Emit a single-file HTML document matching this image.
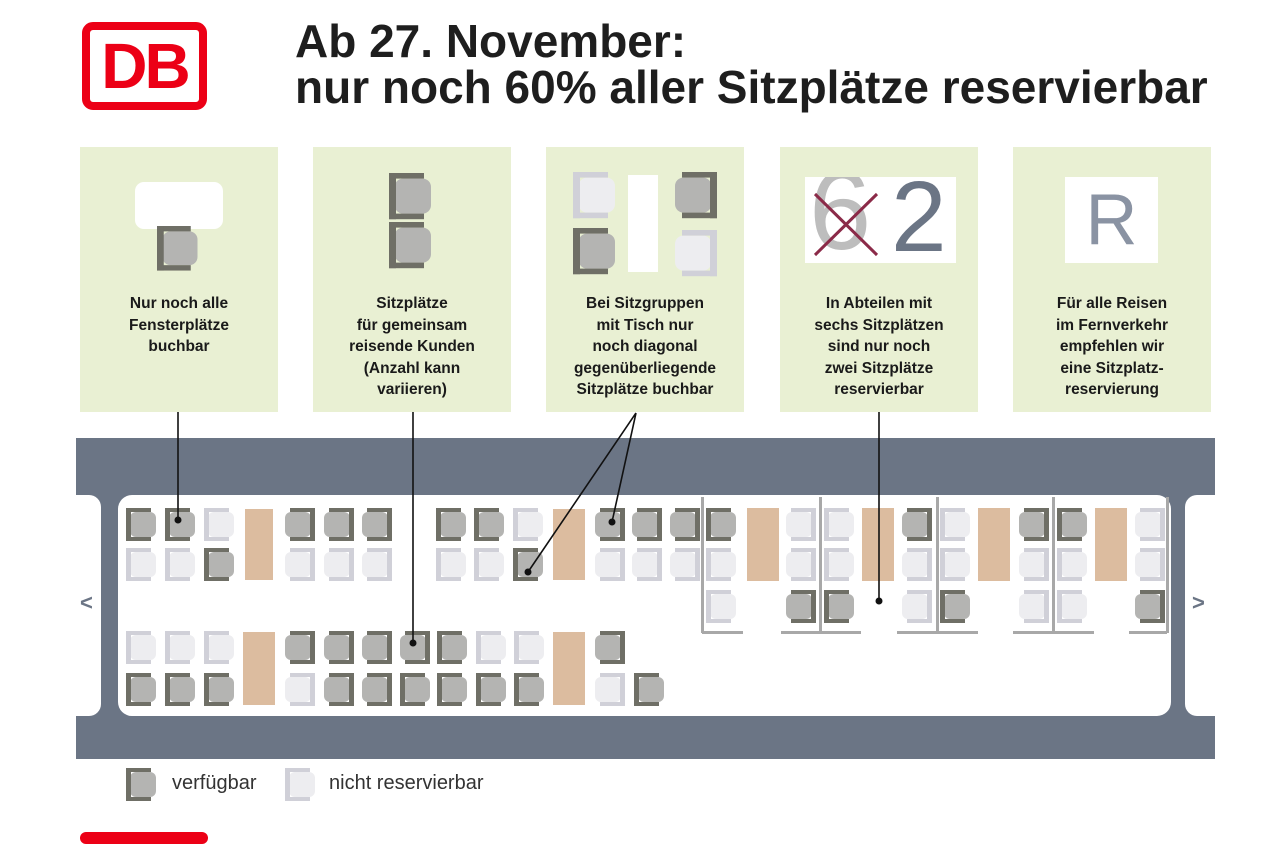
<!DOCTYPE html>
<html><head><meta charset="utf-8">
<style>
*{margin:0;padding:0;box-sizing:border-box}
body{width:1280px;height:854px;background:#fff;position:relative;overflow:hidden;font-family:"Liberation Sans",sans-serif}
.a{position:absolute}
.panel{position:absolute;top:147px;width:198px;height:265px;background:#e9f0d3}
.pt{position:absolute;left:0;right:0;top:147px;text-align:center;font-weight:bold;font-size:15.5px;line-height:21.5px;color:#1a1a1a}
.seat{position:absolute;width:30px;height:33px}
.seat .c{position:absolute;top:4px;width:26px;height:25px;border-radius:6px}
.seat .b{position:absolute;top:0;width:25px;height:33px;border:solid;border-width:4px 0 4px 5px}
.seat.R .b{right:0;border-width:4px 5px 4px 0}
.seat.L .b{left:0}
.seat.L .c{left:4px}
.seat.R .c{right:4px}
.seat.D .b{border-color:#6f6f66}
.seat.D .c{background:#b4b4b2}
.seat.W .b{border-color:#d0d0d8}
.seat.W .c{background:#ededf0}
.tbl{position:absolute;background:#dcbc9f}
.vl{position:absolute;width:3px;background:#a8a8a8}
.hl{position:absolute;height:3px;background:#a8a8a8}
</style></head><body>
<div class="a" style="left:82px;top:22px;width:125px;height:88px;border:8px solid #ec0016;border-radius:11px;background:#fff"></div>
<div class="a" style="left:82px;top:26px;width:125px;text-align:center;font-weight:bold;font-size:64px;color:#ec0016;letter-spacing:-3px;line-height:80px">DB</div>
<div class="a" style="left:295px;top:18px;font-weight:bold;font-size:46px;line-height:46px;color:#1e1e1e;white-space:nowrap">Ab 27. November:<br>nur noch 60% aller Sitzplätze reservierbar</div>
<div class="panel" style="left:80px"><div class="pt" style="top:146px">Nur noch alle<br>Fensterplätze<br>buchbar</div></div>
<div class="panel" style="left:313px"><div class="pt" style="top:146px">Sitzplätze<br>für gemeinsam<br>reisende Kunden<br>(Anzahl kann<br>variieren)</div></div>
<div class="panel" style="left:546px"><div class="pt" style="top:146px">Bei Sitzgruppen<br>mit Tisch nur<br>noch diagonal<br>gegenüberliegende<br>Sitzplätze buchbar</div></div>
<div class="panel" style="left:780px"><div class="pt" style="top:146px">In Abteilen mit<br>sechs Sitzplätzen<br>sind nur noch<br>zwei Sitzplätze<br>reservierbar</div></div>
<div class="panel" style="left:1013px"><div class="pt" style="top:146px">Für alle Reisen<br>im Fernverkehr<br>empfehlen wir<br>eine Sitzplatz-<br>reservierung</div></div>
<div class="a" style="left:135px;top:182px;width:88px;height:47px;background:#fff;border-radius:9px"></div>
<div class="a" style="left:628px;top:175px;width:30px;height:97px;background:#fff"></div>
<div class="a" style="left:805px;top:177px;width:151px;height:86px;background:#fff;overflow:hidden">
 <div class="a" style="left:4px;top:-22px;font-size:112px;color:#bdbdbd;line-height:112px">6</div>
 <div class="a" style="left:86px;top:-16px;font-size:100px;color:#6b7585;line-height:112px">2</div>
 <svg class="a" style="left:0;top:0" width="151" height="86"><path d="M10 17L72 78M72 17L10 78" stroke="#8b2a48" stroke-width="3"/></svg>
</div>
<div class="a" style="left:1065px;top:177px;width:93px;height:86px;background:#fff;text-align:center;font-size:72px;line-height:86px;color:#8a93a3">R</div>
<div class="a" style="left:76px;top:438px;width:1139px;height:321px;background:#6b7585"></div>
<div class="a" style="left:76px;top:495px;width:25px;height:221px;background:#fff;border-radius:0 12px 12px 0"></div>
<div class="a" style="left:1185px;top:495px;width:30px;height:221px;background:#fff;border-radius:12px 0 0 12px"></div>
<div class="a" style="left:118px;top:495px;width:1053px;height:221px;background:#fff;border-radius:14px"></div>
<div class="a" style="left:80px;top:590px;font-weight:bold;font-size:22px;color:#6b7585">&lt;</div>
<div class="a" style="left:1192px;top:590px;font-weight:bold;font-size:22px;color:#6b7585">&gt;</div>
<div class="tbl" style="left:245px;top:509px;width:28px;height:71px"></div>
<div class="tbl" style="left:553px;top:509px;width:32px;height:71px"></div>
<div class="tbl" style="left:747px;top:508px;width:32px;height:73px"></div>
<div class="tbl" style="left:862px;top:508px;width:32px;height:73px"></div>
<div class="tbl" style="left:978px;top:508px;width:32px;height:73px"></div>
<div class="tbl" style="left:1095px;top:508px;width:32px;height:73px"></div>
<div class="tbl" style="left:243px;top:632px;width:32px;height:73px"></div>
<div class="tbl" style="left:553px;top:632px;width:32px;height:73px"></div>
<div class="vl" style="left:701px;top:497px;height:136px"></div>
<div class="vl" style="left:819px;top:497px;height:136px"></div>
<div class="vl" style="left:936px;top:497px;height:136px"></div>
<div class="vl" style="left:1052px;top:497px;height:136px"></div>
<div class="vl" style="left:1166px;top:497px;height:136px"></div>
<div class="hl" style="left:702px;top:631px;width:41px"></div>
<div class="hl" style="left:781px;top:631px;width:80px"></div>
<div class="hl" style="left:897px;top:631px;width:81px"></div>
<div class="hl" style="left:1013px;top:631px;width:81px"></div>
<div class="hl" style="left:1129px;top:631px;width:38px"></div>
<div id="seats"></div>
<div class="a" style="left:172px;top:772px;font-size:20px;color:#333">verfügbar</div>
<div class="a" style="left:329px;top:772px;font-size:20px;color:#333">nicht reservierbar</div>
<div class="a" style="left:80px;top:832px;width:128px;height:12px;background:#ec0016;border-radius:6px"></div>
<svg class="a" style="left:0;top:0" width="1280" height="854">
<g stroke="#111" stroke-width="1.6" fill="none">
<path d="M178 412V520"/><path d="M413 412V643"/><path d="M636 413L528 572M636 413L612 522"/><path d="M879 412V601"/>
</g>
<g fill="#111"><circle cx="178" cy="520" r="3.5"/><circle cx="413" cy="643" r="3.5"/><circle cx="528" cy="572" r="3.5"/><circle cx="612" cy="522" r="3.5"/><circle cx="879" cy="601" r="3.5"/></g>
</svg>
<script>
var S=[
[126,508,'L','D'],[165,508,'L','D'],[204,508,'L','W'],[285,508,'R','D'],[324,508,'R','D'],[362,508,'R','D'],
[126,548,'L','W'],[165,548,'L','W'],[204,548,'L','D'],[285,548,'R','W'],[324,548,'R','W'],[362,548,'R','W'],
[436,508,'L','D'],[474,508,'L','D'],[513,508,'L','W'],[595,508,'R','D'],[632,508,'R','D'],[670,508,'R','D'],
[436,548,'L','W'],[474,548,'L','W'],[513,548,'L','D'],[595,548,'R','W'],[632,548,'R','W'],[670,548,'R','W'],
[706,508,'L','D'],[706,548,'L','W'],[706,590,'L','W'],
[786,508,'R','W'],[786,548,'R','W'],[786,590,'R','D'],[824,508,'L','W'],[824,548,'L','W'],[824,590,'L','D'],
[902,508,'R','D'],[902,548,'R','W'],[902,590,'R','W'],[940,508,'L','W'],[940,548,'L','W'],[940,590,'L','D'],
[1019,508,'R','D'],[1019,548,'R','W'],[1019,590,'R','W'],[1057,508,'L','D'],[1057,548,'L','W'],[1057,590,'L','W'],
[1135,508,'R','W'],[1135,548,'R','W'],[1135,590,'R','D'],
[126,631,'L','W'],[165,631,'L','W'],[204,631,'L','W'],[285,631,'R','D'],[324,631,'R','D'],[362,631,'R','D'],[400,631,'R','D'],[437,631,'L','D'],[476,631,'L','W'],[514,631,'L','W'],[595,631,'R','D'],
[126,673,'L','D'],[165,673,'L','D'],[204,673,'L','D'],[285,673,'R','W'],[324,673,'R','D'],[362,673,'R','D'],[400,673,'L','D'],[437,673,'L','D'],[476,673,'L','D'],[514,673,'L','D'],[595,673,'R','W'],[634,673,'L','D'],
[126,768,'L','D'],[285,768,'L','W'],
[157,226,'L','D',1.35],[389,173,'L','D',1.4],[389,222,'L','D',1.4],
[573,172,'L','W',1.4],[675,172,'R','D',1.4],[573,228,'L','D',1.4],[675,230,'R','W',1.4]
];
var h='';
S.forEach(function(s){var k=s[4]||1;h+='<div class="seat '+s[2]+' '+s[3]+'" style="left:'+s[0]+'px;top:'+s[1]+'px;transform:scale('+k+');transform-origin:left top"><div class="c"></div><div class="b"></div></div>';});
document.getElementById('seats').innerHTML=h;
</script>
</body></html>
